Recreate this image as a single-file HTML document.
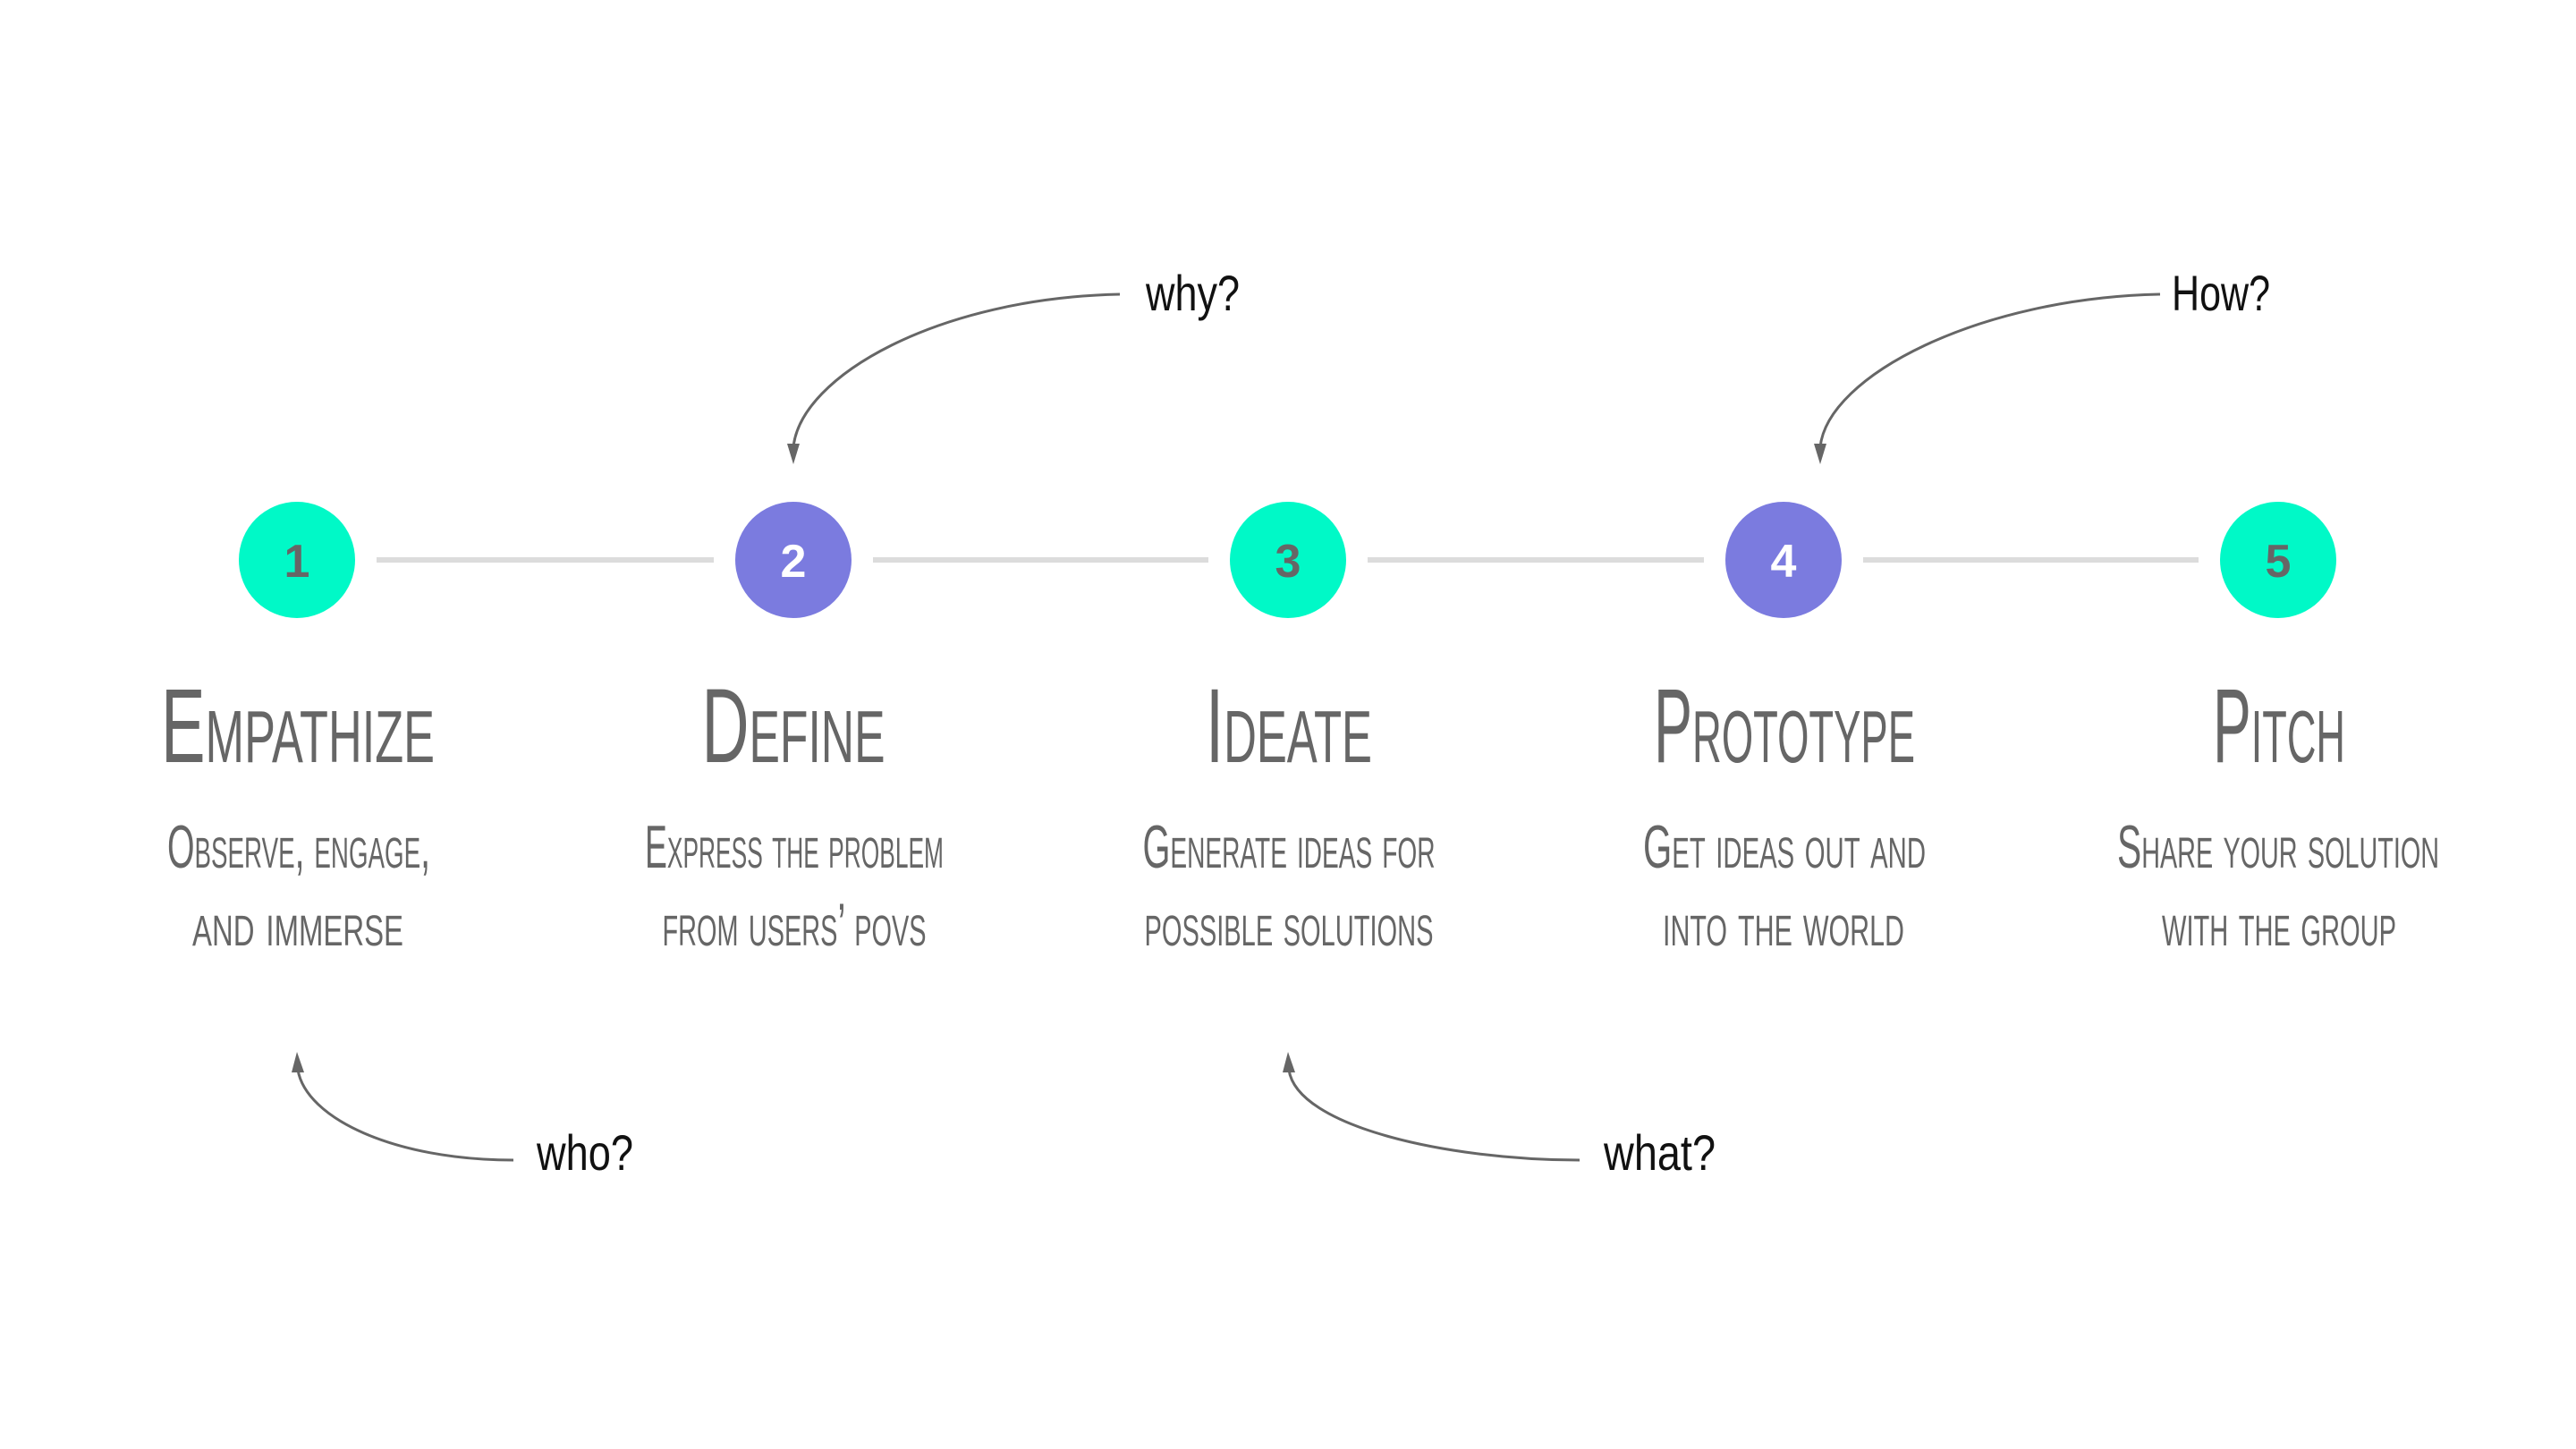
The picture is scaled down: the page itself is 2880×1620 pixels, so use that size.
<!DOCTYPE html>
<html><head><meta charset="utf-8"><style>
html,body{margin:0;padding:0;background:#fff;}
svg{display:block;}
.t{font-family:"Liberation Sans",sans-serif;font-variant:small-caps;fill:#666;text-anchor:middle;}
.ti{font-size:118px;}
.su{font-size:68px;}
.h{font-family:"Liberation Sans",sans-serif;fill:#111;font-size:56px;}
.n{font-family:"Liberation Sans",sans-serif;font-weight:bold;font-size:52px;text-anchor:middle;}
</style></head><body>
<svg width="2880" height="1620" viewBox="0 0 2880 1620" xmlns="http://www.w3.org/2000/svg">
<g stroke="#dcdcdc" stroke-width="6">
<line x1="421" y1="626" x2="798" y2="626"/>
<line x1="976" y1="626" x2="1351" y2="626"/>
<line x1="1529" y1="626" x2="1905" y2="626"/>
<line x1="2083" y1="626" x2="2458" y2="626"/>
</g>
<circle cx="332" cy="626" r="65" fill="#00f9c7"/>
<circle cx="887" cy="626" r="65" fill="#7b7bdf"/>
<circle cx="1440" cy="626" r="65" fill="#00f9c7"/>
<circle cx="1994" cy="626" r="65" fill="#7b7bdf"/>
<circle cx="2547" cy="626" r="65" fill="#00f9c7"/>
<text class="n" x="332" y="645" fill="#666">1</text>
<text class="n" x="887" y="645" fill="#fff">2</text>
<text class="n" x="1440" y="645" fill="#666">3</text>
<text class="n" x="1994" y="645" fill="#fff">4</text>
<text class="n" x="2547" y="645" fill="#666">5</text>

<text class="t ti" x="333" y="852" textLength="306" lengthAdjust="spacingAndGlyphs">Empathize</text>
<text class="t ti" x="887" y="852" textLength="205" lengthAdjust="spacingAndGlyphs">Define</text>
<text class="t ti" x="1441" y="852" textLength="186" lengthAdjust="spacingAndGlyphs">Ideate</text>
<text class="t ti" x="1995" y="852" textLength="292" lengthAdjust="spacingAndGlyphs">Prototype</text>
<text class="t ti" x="2548" y="852" textLength="148" lengthAdjust="spacingAndGlyphs">Pitch</text>

<g class="t su">
<text x="334" y="970" textLength="294" lengthAdjust="spacingAndGlyphs">Observe, engage,</text>
<text x="333" y="1057" textLength="236" lengthAdjust="spacingAndGlyphs">and immerse</text>
<text x="888" y="970" textLength="334" lengthAdjust="spacingAndGlyphs">Express the problem</text>
<text x="888" y="1057" textLength="295" lengthAdjust="spacingAndGlyphs">from users’ povs</text>
<text x="1441" y="970" textLength="327" lengthAdjust="spacingAndGlyphs">Generate ideas for</text>
<text x="1441" y="1057" textLength="323" lengthAdjust="spacingAndGlyphs">possible solutions</text>
<text x="1995" y="970" textLength="316" lengthAdjust="spacingAndGlyphs">Get ideas out and</text>
<text x="1994" y="1057" textLength="270" lengthAdjust="spacingAndGlyphs">into the world</text>
<text x="2547" y="970" textLength="360" lengthAdjust="spacingAndGlyphs">Share your solution</text>
<text x="2548" y="1057" textLength="262" lengthAdjust="spacingAndGlyphs">with the group</text>
</g>

<g fill="none" stroke="#666" stroke-width="3">
<path d="M1252,329 C1050,333 895,420 887,500"/>
<path d="M2415,329 C2213,333 2043,420 2035,500"/>
<path d="M574,1297 C440,1297 342,1250 333,1196"/>
<path d="M1766,1297 C1620,1297 1450,1260 1441,1196"/>
</g>
<g fill="#666">
<path d="M880,496 L894,496 L887,519 Z"/>
<path d="M2028,496 L2042,496 L2035,519 Z"/>
<path d="M326,1199 L340,1199 L332,1176 Z"/>
<path d="M1434,1199 L1448,1199 L1440,1176 Z"/>
</g>
<text class="h" x="1281" y="347" textLength="105" lengthAdjust="spacingAndGlyphs">why?</text>
<text class="h" x="2428" y="347" textLength="110" lengthAdjust="spacingAndGlyphs">How?</text>
<text class="h" x="600" y="1308" textLength="108" lengthAdjust="spacingAndGlyphs">who?</text>
<text class="h" x="1793" y="1308" textLength="125" lengthAdjust="spacingAndGlyphs">what?</text>
</svg>
</body></html>
